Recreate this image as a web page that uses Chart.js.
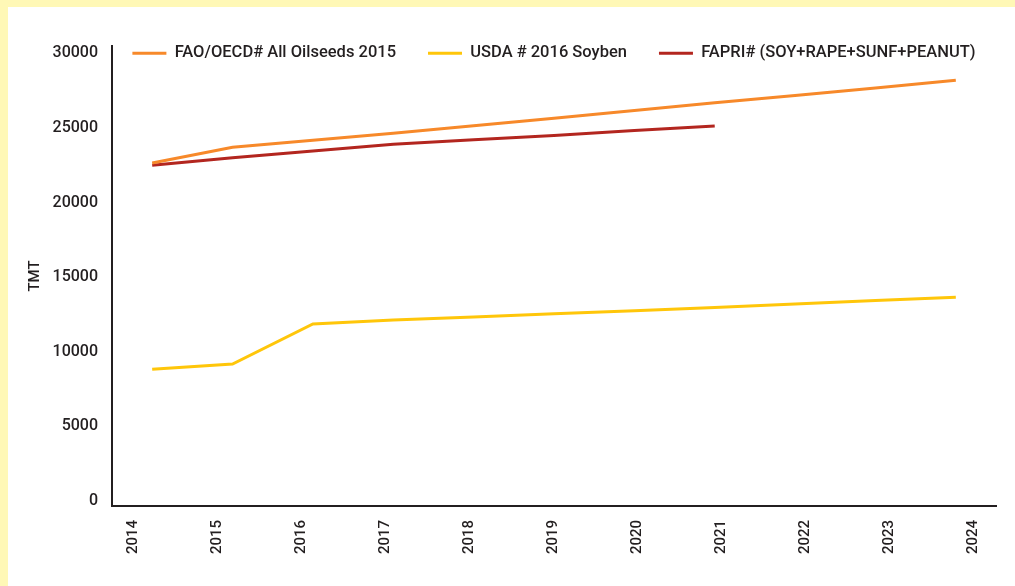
<!DOCTYPE html>
<html><head><meta charset="utf-8">
<script src="https://cdn.jsdelivr.net/npm/chart.js@4.4.1/dist/chart.umd.min.js"></script>
<style>
html,body{margin:0;padding:0;background:#FFF8B6;width:1015px;height:586px;overflow:hidden}
#wrap{position:absolute;left:8px;top:7px;width:1007px;height:579px;background:#fff}
canvas{display:block}
</style></head><body>
<div id="wrap"><canvas id="c" width="1007" height="579"></canvas></div>
<script>
const years = ['2014','2015','2016','2017','2018','2019','2020','2021','2022','2023','2024'];
const faoOecd = [22650, 23700, 24170, 24650, 25150, 25650, 26170, 26680, 27180, 27680, 28200];
const usdaSoy = [8830, 9180, 11860, 12130, 12330, 12540, 12750, 12960, 13200, 13430, 13650];
const fapri = [22500, 23000, 23450, 23900, 24200, 24500, 24820, 25130, null, null, null];
const yTicks = [0, 5000, 10000, 15000, 20000, 25000, 30000];
const seriesNames = ['FAO/OECD# All Oilseeds 2015', 'USDA # 2016 Soyben', 'FAPRI# (SOY+RAPE+SUNF+PEANUT)'];

const ink = '#231F20';
// legend sits inside the top of the plot area, centred over it
const legendInPlot = {
  id: 'legendInPlot',
  afterLayout(chart) {
    const lg = chart.legend, ca = chart.chartArea;
    if (lg) {
      lg.left = ca.left - 40; lg.right = ca.right + 40;
      lg.bottom = lg.top + 70;
    }
  }
};
new Chart(document.getElementById('c'), {
  type: 'line',
  data: {
    labels: years,
    datasets: [
      {label: seriesNames[0], data: faoOecd, borderColor: '#F7892A', backgroundColor: '#F7892A', borderWidth: 3, pointRadius: 0, tension: 0, fill: false},
      {label: seriesNames[1], data: usdaSoy, borderColor: '#FFC60A', backgroundColor: '#FFC60A', borderWidth: 3, pointRadius: 0, tension: 0, fill: false},
      {label: seriesNames[2], data: fapri, borderColor: '#B3261F', backgroundColor: '#B3261F', borderWidth: 3, pointRadius: 0, tension: 0, fill: false}
    ]
  },
  plugins: [legendInPlot],
  options: {
    responsive: false,
    animation: false,
    layout: {padding: {left: 14, top: 6, right: 19, bottom: 0}},
    plugins: {
      tooltip: {enabled: false},
      legend: {
        position: 'top',
        maxHeight: 33,
        labels: {
          usePointStyle: true, pointStyle: 'line', pointStyleWidth: 34,
          padding: 32, color: ink,
          font: {family: 'Roboto', size: 16.5, weight: '500'}
        }
      }
    },
    scales: {
      x: {type: 'category', offset: true, display: false},
      xTicks: {
        type: 'linear', position: 'bottom', min: 2013.744, max: 2024.27,
        afterBuildTicks: s => { s.ticks = years.map(y => ({value: +y})); },
        afterFit: s => { s.height = 80; },
        grid: {display: false},
        border: {display: true, color: ink, width: 2},
        ticks: {
          autoSkip: false, maxRotation: 90, minRotation: 90, padding: 6, color: ink,
          font: {family: 'Roboto', size: 15, weight: '500'},
          callback: (v) => years[years.indexOf(String(v))] ?? ''
        }
      },
      y: {
        min: -335, max: 30490,
        afterBuildTicks: s => { s.ticks = yTicks.map(v => ({value: v})); },
        afterFit: s => { s.width = 90; },
        grid: {display: false},
        border: {display: true, color: ink, width: 2},
        ticks: {padding: 6, color: ink, font: {family: 'Roboto', size: 16, weight: '500'}, callback: v => String(v)},
        title: {display: true, text: 'TMT', color: ink, padding: {top: 4, bottom: 4}, font: {family: 'Roboto', size: 15, weight: '500'}}
      }
    }
  }
});
</script>
</body></html>
